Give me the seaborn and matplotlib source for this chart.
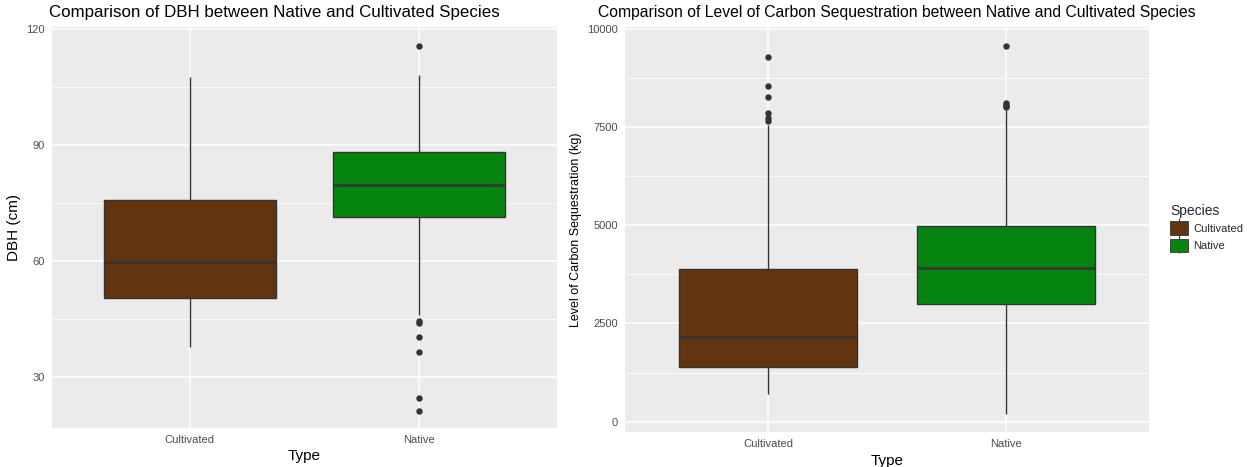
import numpy as np
import pandas as pd
import matplotlib
matplotlib.use("Agg")
import matplotlib.pyplot as plt
from matplotlib.patches import Patch
from matplotlib.lines import Line2D
from matplotlib.legend_handler import HandlerTuple
import seaborn as sns

# values (quartiles, whisker ends, outliers)
types = ["Cultivated", "Native"]
colors = {"Cultivated": "#623510", "Native": "#05850f"}

dbh_cultivated = [37.6, 44.0, 50.3, 55.0, 59.6, 67.0, 75.6, 90.0, 107.4]
dbh_native = [21.2, 24.4, 36.3, 40.4, 43.8, 44.3, 46.0,
              71.2, 73.0, 74.5, 76.0, 77.0, 78.0, 79.0,
              79.6, 81.0, 82.0, 83.5, 85.0, 86.0, 87.5,
              88.2, 90.0, 93.0, 96.0, 100.0, 104.0, 107.9, 115.6]

carbon_cultivated = [693, 800, 900, 1000, 1100, 1200, 1300,
                     1394, 1500, 1600, 1750, 1850, 1950, 2050,
                     2162, 2400, 2700, 3000, 3250, 3500, 3700,
                     3877, 7540, 7645, 7730, 7865, 8265, 8546, 9268]
carbon_native = [194, 800, 1500, 2000, 2400, 2750,
                 2998, 3150, 3300, 3500, 3650, 3800,
                 3919, 4100, 4300, 4500, 4700, 4850,
                 4983, 7930, 8000, 8030, 8060, 8100, 9566]

dbh_df = pd.DataFrame({
    "Type": ["Cultivated"] * len(dbh_cultivated) + ["Native"] * len(dbh_native),
    "DBH": dbh_cultivated + dbh_native,
})
carbon_df = pd.DataFrame({
    "Type": ["Cultivated"] * len(carbon_cultivated) + ["Native"] * len(carbon_native),
    "Carbon": carbon_cultivated + carbon_native,
})

sns.set_theme(style="darkgrid")
plt.rcParams["font.family"] = ["Liberation Sans", "DejaVu Sans"]
plt.rcParams["axes.facecolor"] = "#ebebeb"
plt.rcParams["grid.color"] = "white"

fig = plt.figure(figsize=(12.47, 4.67), dpi=100)
ax1 = fig.add_axes([52 / 1247, 1 - 428 / 467, 505 / 1247, 401 / 467])
ax2 = fig.add_axes([625 / 1247, 1 - 432 / 467, 524 / 1247, 405 / 467])

line = "#333333"
box_kw = dict(
    width=0.75, linewidth=1.0, linecolor=line,
    whiskerprops=dict(color=line, linewidth=1.0),
    capprops=dict(linewidth=0),
    medianprops=dict(color=line, linewidth=1.8),
    flierprops=dict(marker="o", markersize=3.6, markerfacecolor=line,
                    markeredgecolor=line),
    saturation=1,
)

sns.boxplot(data=dbh_df, x="Type", y="DBH", hue="Type", order=types,
            hue_order=types, palette=colors, legend=False, ax=ax1, **box_kw)
sns.boxplot(data=carbon_df, x="Type", y="Carbon", hue="Type", order=types,
            hue_order=types, palette=colors, legend=False, ax=ax2, **box_kw)


def style_axis(ax, ticks, lim):
    ax.set_yticks(ticks)
    minor = [(a + b) / 2 for a, b in zip(ticks[:-1], ticks[1:])]
    step = ticks[1] - ticks[0]
    minor = [ticks[0] - step / 2] + minor + [ticks[-1] + step / 2]
    ax.set_yticks(minor, minor=True)
    ax.set_xlim(-0.6, 1.6)
    ax.set_ylim(*lim)
    ax.grid(True, which="major", color="white", linewidth=1.1)
    ax.grid(True, which="minor", axis="y", color="white", linewidth=0.55)
    ax.set_axisbelow(True)
    for s in ax.spines.values():
        s.set_visible(False)
    ax.tick_params(axis="both", which="major", length=3, width=0.8,
                   color=line, labelcolor="#4d4d4d", labelsize=8, pad=2)
    ax.tick_params(axis="y", which="minor", length=0)


style_axis(ax1, [30, 60, 90, 120], (16.76, 120.4))
style_axis(ax2, [0, 2500, 5000, 7500, 10000], (-262, 10041))

ax1.set_xlabel("Type", fontsize=11, color="black", labelpad=3)
ax1.set_ylabel("DBH (cm)", fontsize=11, color="black", labelpad=4)
ax2.set_xlabel("Type", fontsize=11, color="black", labelpad=4)
ax2.set_ylabel("Level of Carbon Sequestration (kg)", fontsize=9,
               color="black", labelpad=4)

fig.text(49 / 1247, 1 - 12.5 / 467,
         "Comparison of DBH between Native and Cultivated Species",
         fontsize=12.2, ha="left", va="center", color="black")
fig.text(598 / 1247, 1 - 13 / 467,
         "Comparison of Level of Carbon Sequestration between Native and Cultivated Species",
         fontsize=11.3, ha="left", va="center", color="black")

# ggplot-like legend keys: box over a vertical whisker line
handles = []
for t in types:
    whisk = Line2D([], [], marker="|", markersize=13, markeredgewidth=0.8,
                   linestyle="none", color=line)
    box = Patch(facecolor=colors[t], edgecolor=line, linewidth=0.6)
    handles.append((whisk, box))
fig.legend(handles=handles, labels=types, title="Species", loc="center left",
           bbox_to_anchor=(1160 / 1247, 1 - 228 / 467), frameon=False,
           fontsize=8, title_fontsize=10, handlelength=1.6, handleheight=1.5,
           labelspacing=0.35, handletextpad=0.5, alignment="left",
           handler_map={tuple: HandlerTuple(ndivide=1, pad=0)})

fig.savefig("out.png", dpi=100, facecolor="white")
